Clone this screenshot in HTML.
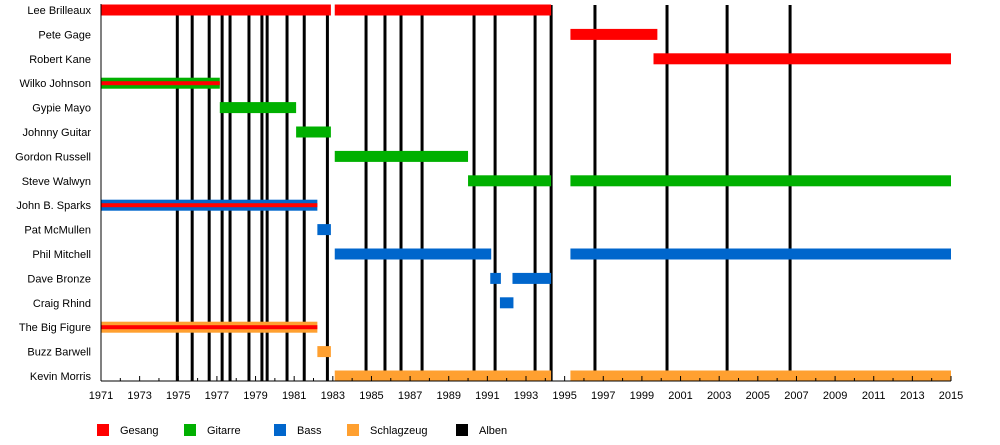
<!DOCTYPE html>
<html><head><meta charset="utf-8"><style>
body{margin:0;background:#fff;width:1000px;height:440px;overflow:hidden}
svg text{font-family:"Liberation Sans",sans-serif;font-size:11px;fill:#000}
</style></head><body>
<svg id="chart" width="1000" height="440" xmlns="http://www.w3.org/2000/svg"></svg>
<script>
const members = ["Lee Brilleaux","Pete Gage","Robert Kane","Wilko Johnson","Gypie Mayo","Johnny Guitar","Gordon Russell","Steve Walwyn","John B. Sparks","Pat McMullen","Phil Mitchell","Dave Bronze","Craig Rhind","The Big Figure","Buzz Barwell","Kevin Morris"];
// [memberIndex, start, end, role, stripeRole]
const periods = [
 [0,1971,1982.9,"Gesang",null],[0,1983.1,1994.3,"Gesang",null],
 [1,1995.3,1999.8,"Gesang",null],
 [2,1999.6,2015,"Gesang",null],
 [3,1971,1977.15,"Gitarre","Gesang"],
 [4,1977.15,1981.1,"Gitarre",null],
 [5,1981.1,1982.9,"Gitarre",null],
 [6,1983.1,1990.0,"Gitarre",null],
 [7,1990.0,1994.3,"Gitarre",null],[7,1995.3,2015,"Gitarre",null],
 [8,1971,1982.2,"Bass","Gesang"],
 [9,1982.2,1982.9,"Bass",null],
 [10,1983.1,1991.2,"Bass",null],[10,1995.3,2015,"Bass",null],
 [11,1991.15,1991.7,"Bass",null],[11,1992.3,1994.3,"Bass",null],
 [12,1991.65,1992.35,"Bass",null],
 [13,1971,1982.2,"Schlagzeug","Gesang"],
 [14,1982.2,1982.9,"Schlagzeug",null],
 [15,1983.1,1994.3,"Schlagzeug",null],[15,1995.3,2015,"Schlagzeug",null]
];
const albums = [1974.95,1975.72,1976.6,1977.27,1977.68,1978.66,1979.33,1979.6,1980.63,1981.52,1982.72,1984.72,1985.7,1986.53,1987.62,1990.31,1991.4,1993.47,1994.3,1996.57,2000.3,2003.41,2006.67];
const legendRoles = ["Gesang","Gitarre","Bass","Schlagzeug","Alben"];
const colors = {Gesang:"#ff0000",Gitarre:"#00b000",Bass:"#0066cc",Schlagzeug:"#ffa030",Alben:"#000000"};
const x0=1971,x1=2015,px0=101,px1=951;
const X=v=>px0+(v-x0)*(px1-px0)/(x1-x0);
const Y=i=>10+i*24.4;
const svg=document.getElementById('chart');
const NS="http://www.w3.org/2000/svg";
function mk(t,a){const e=document.createElementNS(NS,t);for(const k in a)e.setAttribute(k,a[k]);svg.appendChild(e);return e;}
albums.forEach(a=>{
 const l=mk('line',{x1:X(a),x2:X(a),y1:5,y2:381,stroke:'#000','stroke-width':3});
 
 
});
periods.forEach(p=>{
 const r=mk('rect',{x:X(p[1]),y:Y(p[0])-5.5,width:X(p[2])-X(p[1]),height:11,fill:colors[p[3]]});
 
 
 if(p[4]){
  const s=mk('rect',{x:X(p[1]),y:Y(p[0])-2,width:X(p[2])-X(p[1]),height:4,fill:colors[p[4]]});
  
  
 }
});
members.forEach((m,i)=>{
 const t=mk('text',{x:91,y:Y(i)+4,'text-anchor':'end'});t.textContent=m;
 
 
});
let ax=mk('line',{x1:101,x2:101,y1:4,y2:381,stroke:'#000','stroke-width':1});


ax=mk('line',{x1:101,x2:951,y1:381,y2:381,stroke:'#000','stroke-width':1});


for(let y=x0;y<=x1;y++){
 const tk=mk('line',{x1:X(y),x2:X(y),y1:381,y2:(y-x0)%2?378:376,stroke:'#000','stroke-width':1});
 
 
 if((y-x0)%2===0){
  const t=mk('text',{x:X(y),y:399,'text-anchor':'middle'});t.textContent=y;
  
  
 }
}
const lx=[97,184,274,347,456];
legendRoles.forEach((r,i)=>{
 const s=mk('rect',{x:lx[i],y:424,width:12,height:12,fill:colors[r]});
 
 
 const t=mk('text',{x:lx[i]+23,y:434});t.textContent=r;
 
 
});
</script>
</body></html>
